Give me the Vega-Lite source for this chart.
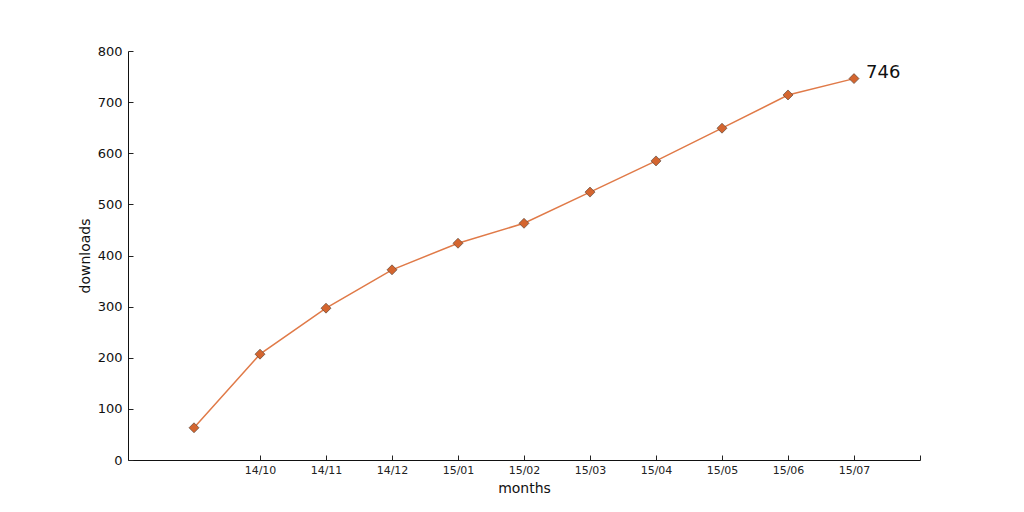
{
  "$schema": "https://vega.github.io/schema/vega-lite/v6.json",
  "autosize": "none",
  "width": 792,
  "height": 409,
  "padding": {"left": 128, "top": 51, "right": 104, "bottom": 52},
  "background": "white",
  "config": {"view": {"stroke": null}, "font": "DejaVu Sans"},
  "data": {"values": [
    {"i": 1, "month": "14/09", "downloads": 63},
    {"i": 2, "month": "14/10", "downloads": 207},
    {"i": 3, "month": "14/11", "downloads": 297},
    {"i": 4, "month": "14/12", "downloads": 372},
    {"i": 5, "month": "15/01", "downloads": 424},
    {"i": 6, "month": "15/02", "downloads": 463},
    {"i": 7, "month": "15/03", "downloads": 524},
    {"i": 8, "month": "15/04", "downloads": 585},
    {"i": 9, "month": "15/05", "downloads": 649},
    {"i": 10, "month": "15/06", "downloads": 714},
    {"i": 11, "month": "15/07", "downloads": 746}
  ]},
  "encoding": {
    "x": {"field": "i", "type": "quantitative", "scale": {"domain": [0, 12], "nice": false, "zero": false},
      "axis": {"title": "months", "values": [2,3,4,5,6,7,8,9,10,11,12], "grid": false,
        "labelExpr": "['','','14/10','14/11','14/12','15/01','15/02','15/03','15/04','15/05','15/06','15/07',''][datum.value]",
        "tickSize": -5, "labelPadding": 9, "labelFontSize": 11, "labelColor": "#222", "tickColor": "#222",
        "domainColor": "#111", "titleFontSize": 14, "titleFontWeight": "normal", "titleColor": "#111", "titlePadding": 6}},
    "y": {"field": "downloads", "type": "quantitative", "scale": {"domain": [0, 800], "nice": false},
      "axis": {"title": "downloads", "values": [0,100,200,300,400,500,600,700,800], "grid": false,
        "tickSize": -5, "labelPadding": 11, "labelFontSize": 13, "labelColor": "#111", "tickColor": "#222",
        "domainColor": "#111", "titleFontSize": 14, "titleFontWeight": "normal", "titleColor": "#111", "titlePadding": 5}}
  },
  "layer": [
    {"mark": {"type": "line", "color": "#e07a48", "strokeWidth": 1.5}},
    {"mark": {"type": "point", "shape": "diamond", "filled": true, "fill": "#d4652f", "stroke": "#4a3a30", "strokeWidth": 0.6, "size": 100, "opacity": 1}},
    {"transform": [{"filter": "datum.i == 11"}],
      "mark": {"type": "text", "align": "left", "baseline": "middle", "dx": 12, "dy": -6, "fontSize": 18, "color": "#111"},
      "encoding": {"text": {"field": "downloads", "type": "quantitative"}}}
  ]
}
